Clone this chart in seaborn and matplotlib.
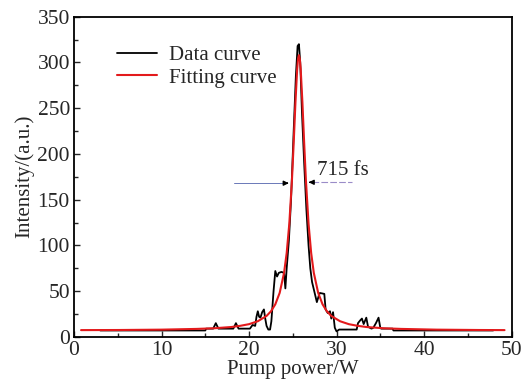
import matplotlib
matplotlib.use("Agg")
import matplotlib.pyplot as plt
import seaborn as sns
import pandas as pd
from matplotlib.ticker import MultipleLocator

# measured trace (black)
data_x = [3.0, 15.0, 15.1, 15.9, 16.2, 16.5, 18.2, 18.5, 18.8, 20.1, 20.4, 20.7,
          20.85, 21.0, 21.15, 21.3, 21.5, 21.7, 21.85, 22.0, 22.2, 22.4, 22.55, 22.8,
          23.0, 23.2, 23.4, 23.7, 24.0, 24.15, 24.3, 24.55, 24.8, 25.1, 25.35, 25.55,
          25.7, 25.85, 26.05, 26.3, 26.55, 26.8, 27.0, 27.2, 27.5, 27.75, 28.0, 28.1,
          28.6, 28.75, 29.0, 29.25, 29.4, 29.6, 29.8, 30.0, 30.3, 32.3, 32.45, 32.7,
          32.9, 33.1, 33.4, 33.6, 34.0, 34.2, 34.5, 34.8, 35.0, 35.1, 36.4, 36.5, 47.9]
data_y = [7, 7, 9, 9, 15, 9, 9, 15, 9, 9, 13, 12,
          22, 28, 22, 21, 27, 30, 20, 12, 8, 8, 17, 50,
          72, 66, 70, 71, 70, 53, 75, 105, 150, 225, 285, 318,
          320, 300, 245, 190, 140, 100, 75, 60, 48, 38, 46, 48,
          47, 30, 26, 28, 20, 27, 10, 6, 8, 8, 15, 18,
          20, 14, 21, 11, 9, 10, 15, 21, 10, 9, 9, 7, 7]

# fitted curve (red)
fit_x = [0.8, 5, 10, 14, 16, 18, 19, 20, 21, 22, 22.5, 23, 23.5, 24, 24.3, 24.6,
         24.9, 25.1, 25.3, 25.5, 25.6, 25.7, 25.8, 25.9, 26.1, 26.3, 26.5, 26.8,
         27.1, 27.4, 27.9, 28.4, 28.9, 29.4, 30.4, 31.4, 32.4, 33.4, 35.4, 37.4,
         41.4, 46.4, 49.2]
fit_y = [7.4, 7.5, 7.9, 8.7, 9.4, 10.8, 12.1, 13.9, 17.1, 22.9, 27.9, 35.6, 48.1,
         70, 91.6, 123.7, 170.9, 211.8, 256, 293, 304, 308, 304, 293, 256, 211.8,
         170.9, 123.7, 91.6, 70, 48.1, 35.6, 27.9, 22.9, 17.1, 13.9, 12.1, 10.8,
         9.4, 8.7, 7.9, 7.5, 7.4]

df_data = pd.DataFrame({"x": data_x, "y": data_y})
df_fit = pd.DataFrame({"x": fit_x, "y": fit_y})

sns.set_style("ticks")
plt.rcParams["font.family"] = ["Liberation Serif", "DejaVu Serif"]

fig = plt.figure(figsize=(5.29, 3.89), dpi=100)
ax = fig.add_axes([0.140, 0.134, 0.827, 0.823])

sns.lineplot(data=df_data, x="x", y="y", ax=ax, color="black", lw=1.3,
             sort=False, estimator=None, label="Data curve")
sns.lineplot(data=df_fit, x="x", y="y", ax=ax, color="#e31a1c", lw=1.5,
             sort=False, estimator=None, label="Fitting curve")

# FWHM markers
ax.plot([18.3, 24.3], [168, 168], color="#6a78b8", lw=0.7)
ax.plot([27.2, 31.8], [169, 169], color="#9a8cc8", lw=0.8, ls=(0, (6, 2)))
ax.annotate("", xy=(24.85, 168), xytext=(24.0, 168),
            arrowprops=dict(arrowstyle="-|>", color="black", lw=1.0,
                            mutation_scale=7))
ax.annotate("", xy=(26.5, 169), xytext=(27.4, 169),
            arrowprops=dict(arrowstyle="-|>", color="black", lw=1.0,
                            mutation_scale=7))
ax.text(27.8, 171, "715 fs", fontsize=15, ha="left", va="bottom")

ax.set_xlim(0, 50)
ax.set_ylim(0, 350)
ax.xaxis.set_major_locator(MultipleLocator(10))
ax.xaxis.set_minor_locator(MultipleLocator(5))
ax.yaxis.set_major_locator(MultipleLocator(50))
ax.yaxis.set_minor_locator(MultipleLocator(25))
ax.tick_params(axis="both", which="both", direction="in", labelsize=15.5,
               top=False, right=False, width=1.0)
ax.tick_params(which="major", length=4.5, pad=3)
ax.tick_params(which="minor", length=3)
for s in ax.spines.values():
    s.set_linewidth(1.3)
    s.set_color("black")

ax.set_xlabel("Pump power/W", fontsize=15, labelpad=0)
ax.set_ylabel("Intensity/(a.u.)", fontsize=15, labelpad=2)

ax.legend(loc="upper left", bbox_to_anchor=(0.08, 0.935), frameon=False,
          fontsize=15, handlelength=1.9, handletextpad=0.6, labelspacing=0.12,
          borderaxespad=0)

fig.savefig("out.png", dpi=100)
